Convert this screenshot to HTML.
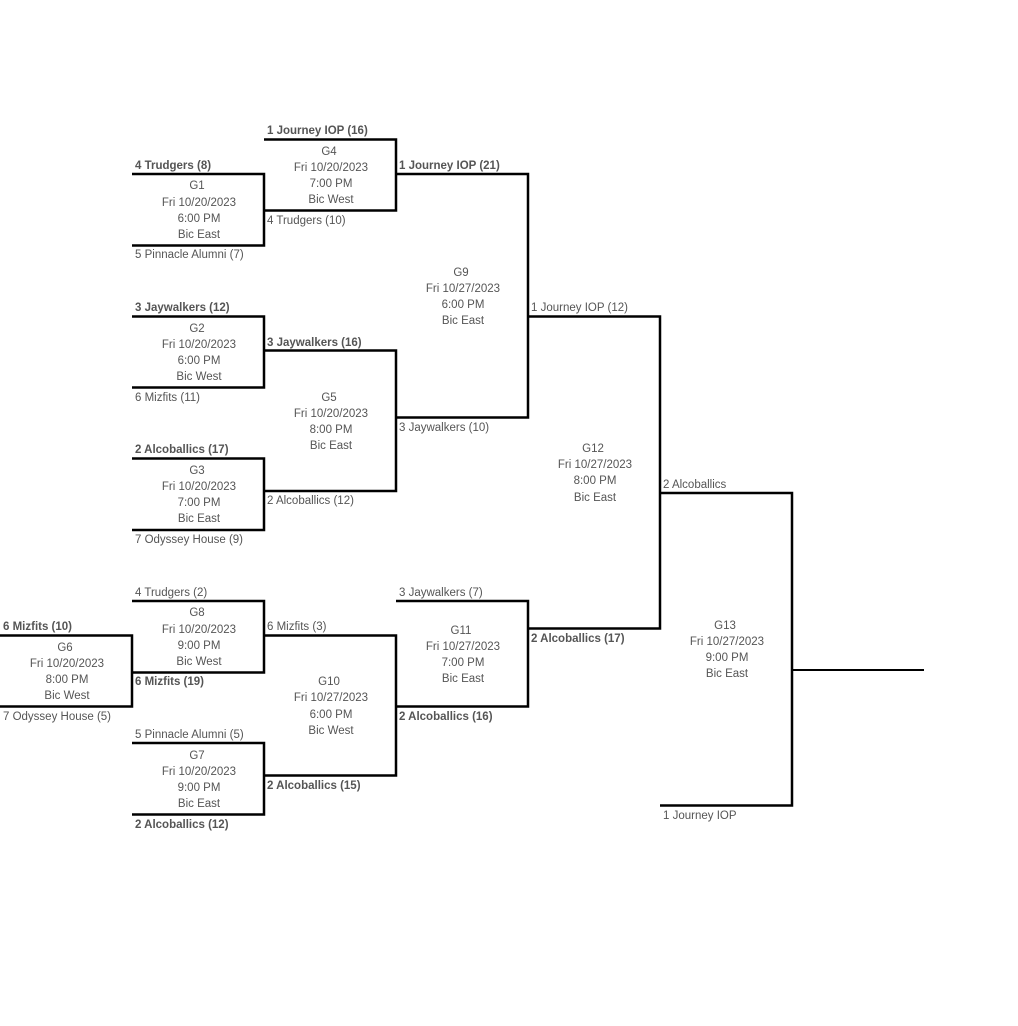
<!DOCTYPE html>
<html><head><meta charset="utf-8"><style>
html,body{margin:0;padding:0;background:#fff}
svg{display:block}
text{font-family:"Liberation Sans",sans-serif;font-size:11.5px;fill:#555}
.b{font-weight:bold}
.m{text-anchor:middle}
path{fill:none;stroke:#000;stroke-width:2.5}
</style></head><body>
<svg width="1018" height="1026" viewBox="0 0 1018 1026" xmlns="http://www.w3.org/2000/svg">
<path d="M132 174H264V245.500H132"/>
<path d="M264 139.500H396V210.500H264"/>
<path d="M132 316.500H264V387.500H132"/>
<path d="M132 458.500H264V530H132"/>
<path d="M264 350.500H396V491H264"/>
<path d="M396 174H528V417.500H396"/>
<path d="M528 316.500H660V628.500H528"/>
<path d="M660 493H792V805.500H660"/>
<path d="M792 670H924" style="stroke-width:2"/>
<path d="M132 601H264V672.500H132"/>
<path d="M-5 635.500H132V706.500H-5"/>
<path d="M132 743H264V814.500H132"/>
<path d="M264 635.500H396V775.500H264"/>
<path d="M396 601H528V706.500H396"/>

<text x="267" y="134" class="b">1 Journey IOP (16)</text>
<text x="267" y="224">4 Trudgers (10)</text>
<text x="135" y="169" class="b">4 Trudgers (8)</text>
<text x="135" y="258">5 Pinnacle Alumni (7)</text>
<text x="399" y="169" class="b">1 Journey IOP (21)</text>
<text x="135" y="311" class="b">3 Jaywalkers (12)</text>
<text x="135" y="401">6 Mizfits (11)</text>
<text x="267" y="346" class="b">3 Jaywalkers (16)</text>
<text x="135" y="453" class="b">2 Alcoballics (17)</text>
<text x="267" y="504">2 Alcoballics (12)</text>
<text x="135" y="543">7 Odyssey House (9)</text>
<text x="399" y="431">3 Jaywalkers (10)</text>
<text x="531" y="311">1 Journey IOP (12)</text>
<text x="663" y="488">2 Alcoballics</text>
<text x="135" y="596">4 Trudgers (2)</text>
<text x="267" y="630">6 Mizfits (3)</text>
<text x="399" y="596">3 Jaywalkers (7)</text>
<text x="531" y="642" class="b">2 Alcoballics (17)</text>
<text x="3" y="630" class="b">6 Mizfits (10)</text>
<text x="3" y="720">7 Odyssey House (5)</text>
<text x="135" y="685" class="b">6 Mizfits (19)</text>
<text x="399" y="720" class="b">2 Alcoballics (16)</text>
<text x="135" y="738">5 Pinnacle Alumni (5)</text>
<text x="267" y="789" class="b">2 Alcoballics (15)</text>
<text x="135" y="828" class="b">2 Alcoballics (12)</text>
<text x="663" y="819">1 Journey IOP</text>

<g class="m">
<text class="m" x="197" y="189">G1</text><text class="m" x="199" y="206">Fri 10/20/2023</text><text class="m" x="199" y="222">6:00 PM</text><text class="m" x="199" y="238">Bic East</text>
<text class="m" x="329" y="155">G4</text><text class="m" x="331" y="171">Fri 10/20/2023</text><text class="m" x="331" y="187">7:00 PM</text><text class="m" x="331" y="203">Bic West</text>
<text class="m" x="197" y="332">G2</text><text class="m" x="199" y="348">Fri 10/20/2023</text><text class="m" x="199" y="364">6:00 PM</text><text class="m" x="199" y="380">Bic West</text>
<text class="m" x="197" y="474">G3</text><text class="m" x="199" y="490">Fri 10/20/2023</text><text class="m" x="199" y="506">7:00 PM</text><text class="m" x="199" y="522">Bic East</text>
<text class="m" x="329" y="401">G5</text><text class="m" x="331" y="417">Fri 10/20/2023</text><text class="m" x="331" y="433">8:00 PM</text><text class="m" x="331" y="449">Bic East</text>
<text class="m" x="461" y="276">G9</text><text class="m" x="463" y="292">Fri 10/27/2023</text><text class="m" x="463" y="308">6:00 PM</text><text class="m" x="463" y="324">Bic East</text>
<text class="m" x="593" y="452">G12</text><text class="m" x="595" y="468">Fri 10/27/2023</text><text class="m" x="595" y="484">8:00 PM</text><text class="m" x="595" y="501">Bic East</text>
<text class="m" x="725" y="629">G13</text><text class="m" x="727" y="645">Fri 10/27/2023</text><text class="m" x="727" y="661">9:00 PM</text><text class="m" x="727" y="677">Bic East</text>
<text class="m" x="197" y="616">G8</text><text class="m" x="199" y="633">Fri 10/20/2023</text><text class="m" x="199" y="649">9:00 PM</text><text class="m" x="199" y="665">Bic West</text>
<text class="m" x="65" y="651">G6</text><text class="m" x="67" y="667">Fri 10/20/2023</text><text class="m" x="67" y="683">8:00 PM</text><text class="m" x="67" y="699">Bic West</text>
<text class="m" x="197" y="759">G7</text><text class="m" x="199" y="775">Fri 10/20/2023</text><text class="m" x="199" y="791">9:00 PM</text><text class="m" x="199" y="807">Bic East</text>
<text class="m" x="329" y="685">G10</text><text class="m" x="331" y="701">Fri 10/27/2023</text><text class="m" x="331" y="718">6:00 PM</text><text class="m" x="331" y="734">Bic West</text>
<text class="m" x="461" y="634">G11</text><text class="m" x="463" y="650">Fri 10/27/2023</text><text class="m" x="463" y="666">7:00 PM</text><text class="m" x="463" y="682">Bic East</text>
</g>
</svg>
</body></html>
